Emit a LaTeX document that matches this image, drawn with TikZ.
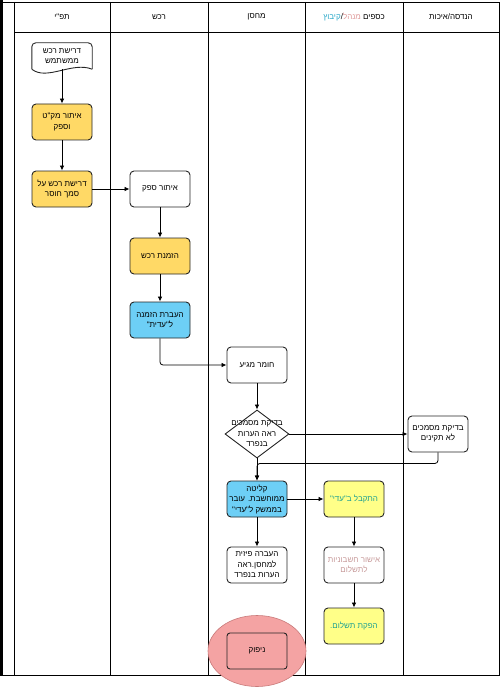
\documentclass[tikz,border=0pt]{standalone}
\usepackage{fontspec}
\setmainfont{Liberation Sans}
\newfontfamily\hebfont[Script=Hebrew]{Liberation Sans}
\TeXXeTstate=1
\usetikzlibrary{shapes.geometric,arrows.meta,positioning}
\newcommand{\heb}[1]{{\hebfont\beginR #1\endR}}
\definecolor{procyellow}{HTML}{FFD966}
\definecolor{procblue}{HTML}{6DCFF6}
\definecolor{paleyellow}{HTML}{FFFF88}
\definecolor{stopred}{HTML}{F4A3A3}
\definecolor{stopedge}{HTML}{C97A7A}
\definecolor{flowteal}{HTML}{1FA192}
\definecolor{flowrose}{HTML}{C79A9A}
\definecolor{laneteal}{HTML}{2AA8C8}
\definecolor{lanerose}{HTML}{DF9A9A}

\begin{document}
\begin{tikzpicture}[x=1pt, y=-1pt, node distance=66pt, >={Latex[length=5pt,width=4.5pt]},
  task node/.style={rectangle, rounded corners=4pt, draw=black!85, line width=0.9pt, minimum width=60pt, minimum height=36pt, inner sep=1pt, align=center},
  doc node/.style={rectangle, minimum width=60pt, minimum height=26pt, inner sep=1pt, align=center},
  gate node/.style={diamond, draw=black!85, line width=0.9pt, minimum width=64pt, minimum height=48pt, inner sep=0pt},
  lane/.style={line width=0.9pt}]
  \tikzstyle{every node}=[font=\fontsize{8}{10.5}\selectfont]

  \useasboundingbox (0,0) rectangle (500,687);

  % table
  \draw[line width=3pt] (1.5,0) -- (1.5,676);
  \draw[lane] (3,2) -- (499,2) -- (499,675) -- (0,675);
  \draw[lane] (14,32) -- (499,32);
  \foreach \x in {14,110.5,208,305.5,403}
    \draw[lane] (\x,2) -- (\x,675);

  % lane titles
  \node (t1) at (62,17) {\heb{תפ"י}};
  \node (t2) at (159,17) {\heb{רכש}};
  \node (t3) at (256.5,17) {\heb{מחסן}};
  \node (t4) at (354,17) {{\color{laneteal}\heb{קיבוץ}}/{\color{lanerose}\heb{מנהל}} \heb{כספים}};
  \node (t5) at (451,17) {\heb{הנדסה/איכות}};

  % flow
  \node[doc node] (1) at (62,56) {\heb{דרישת רכש}\\\heb{ממשתמש}};
  \draw[line width=0.9pt, draw=black!85, rounded corners=4pt] (1.south west) -- (1.north west) -- (1.north east) -- (1.south east);
  \draw[line width=0.9pt, draw=black!85] (1.south west) .. controls +(15,12) and +(-20,-8) .. (1.south east);
  \node[task node, fill=procyellow] (2) [below of=1] {\heb{איתור מק"ט}\\\heb{וספק}};
  \node[task node, fill=procyellow] (3) [below of=2, node distance=67pt] {\heb{דרישת רכש על}\\\heb{סמך חוסר}};
  \node[task node] (4) [right of=3, node distance=98pt] {\heb{איתור ספק}};
  \node[task node, fill=procyellow] (5) [below of=4, node distance=67pt] {\heb{הזמנת רכש}};
  \node[task node, fill=procblue] (6) [below of=5, node distance=64pt] {\heb{העברת הזמנה}\\\heb{ל"עדית"}};
  \node[task node] (7) at (257,365) {\heb{חומר מגיע}};
  \node[gate node] (8) [below of=7, node distance=69pt,
    label={[align=center]center:{{\hebfont\beginR בדיקת מסמכים\endR}\\{\hebfont\beginR ראה הערות\endR}\\{\hebfont\beginR בנפרד\endR}}}] {};
  \node[task node] (9) at (438,434) {\heb{בדיקת מסמכים}\\\heb{לא תקינים}};
  \node[task node, fill=procblue] (10) [below of=8, node distance=65pt] {\heb{קליטה}\\\heb{ממוחשבת. עובר}\\\heb{בממשק ל"עדי"}};
  \node[task node, fill=paleyellow, text=flowteal] (11) [right of=10, node distance=97pt] {\heb{התקבל ב"עדי"}};
  \node[task node] (12) [below of=10] {\heb{העברה פיזית}\\\heb{למחסן.ראה}\\\heb{הערות בנפרד}};
  \node[task node, text=flowrose] (13) [below of=11] {\heb{אישור חשבוניות}\\\heb{לתשלום}};
  \node[task node, fill=paleyellow, text=flowteal] (14) [below of=13, node distance=61pt] {\heb{הפקת תשלום.}};
  \node[ellipse, fill=stopred, draw=stopedge, line width=0.6pt, minimum width=98pt, minimum height=71pt] (15) at (257,651) {};
  \node[task node, fill=stopred, rounded corners=3pt] (16) at (15) {\heb{ניפוק}};

  \path[->, line width=0.8pt]
    (1) edge (2)
    (2) edge (3)
    (3) edge (4)
    (4) edge (5)
    (5) edge (6)
    (7) edge (8)
    (8) edge (9)
    (8) edge (10)
    (10) edge (11)
    (10) edge (12)
    (11) edge (13)
    (13) edge (14);
  \draw[->, line width=0.8pt, rounded corners=3pt] (6) |- (7);
  \draw[->, line width=0.8pt, rounded corners=3pt] (9.south) -- ++(0,11) -| (10.north);
\end{tikzpicture}
\end{document}
